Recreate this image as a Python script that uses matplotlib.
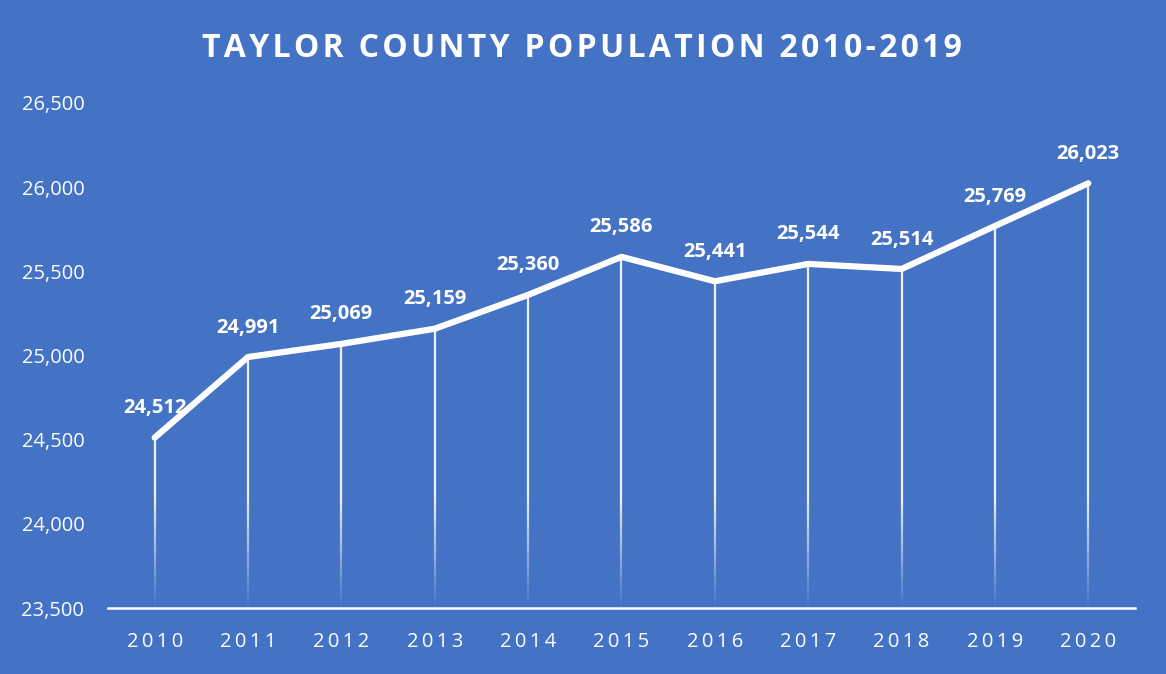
import numpy as np
import matplotlib.pyplot as plt
from matplotlib.collections import LineCollection

plt.rcParams["font.family"] = ["Open Sans", "DejaVu Sans"]

# Population by year
years = ["2010", "2011", "2012", "2013", "2014", "2015", "2016", "2017", "2018", "2019", "2020"]
population = [24512, 24991, 25069, 25159, 25360, 25586, 25441, 25544, 25514, 25769, 26023]
y_ticks = [23500, 24000, 24500, 25000, 25500, 26000, 26500]
title = "TAYLOR COUNTY POPULATION 2010-2019"

bg = "#4472C4"
ymin, ymax = 23500, 26500

fig = plt.figure(figsize=(11.66, 6.74), dpi=100, facecolor=bg)
ax = fig.add_axes([0.0926, 0.0979, 0.8808, 0.7493], facecolor=bg)

x = np.arange(len(years))

# drop lines from each point to the axis, fading out toward the bottom
segs, cols = [], []
for xi, yi in zip(x, population):
    ys = np.linspace(ymin, yi, 80)
    for a, b in zip(ys[:-1], ys[1:]):
        segs.append([(xi, a), (xi, b)])
        alpha = np.clip((0.5 * (a + b) - ymin) / 650, 0.0, 1.0) * 0.9
        cols.append((1, 1, 1, alpha))
ax.add_collection(LineCollection(segs, colors=cols, linewidths=1.6, zorder=2))

ax.plot(x, population, color="white", lw=4.5, solid_capstyle="round",
        solid_joinstyle="round", zorder=3)

for xi, yi in zip(x, population):
    ax.annotate(f"{yi:,}", (xi, yi), xytext=(0, 14), textcoords="offset points",
                ha="center", va="bottom", color="white", fontsize=14.5,
                fontweight="bold", zorder=4)

ax.set_xlim(-0.5, len(years) - 0.5)
ax.set_ylim(ymin, ymax)
ax.set_yticks(y_ticks, labels=[f"{v:,}" for v in y_ticks])
ax.set_xticks(x, labels=["\u2009".join(y) for y in years])

for side in ["top", "right", "left"]:
    ax.spines[side].set_visible(False)
ax.spines["bottom"].set_color("white")
ax.spines["bottom"].set_linewidth(1.8)

ax.tick_params(axis="both", length=0, colors="white", labelsize=14.5)
ax.tick_params(axis="y", pad=17)
ax.tick_params(axis="x", pad=17)

# letter-spaced title
fig.text(0.4995, 0.928, "\u200a".join(title), ha="center", va="center",
         color="white", fontsize=23, fontweight="bold")

fig.savefig("out.png", dpi=100, facecolor=bg)
